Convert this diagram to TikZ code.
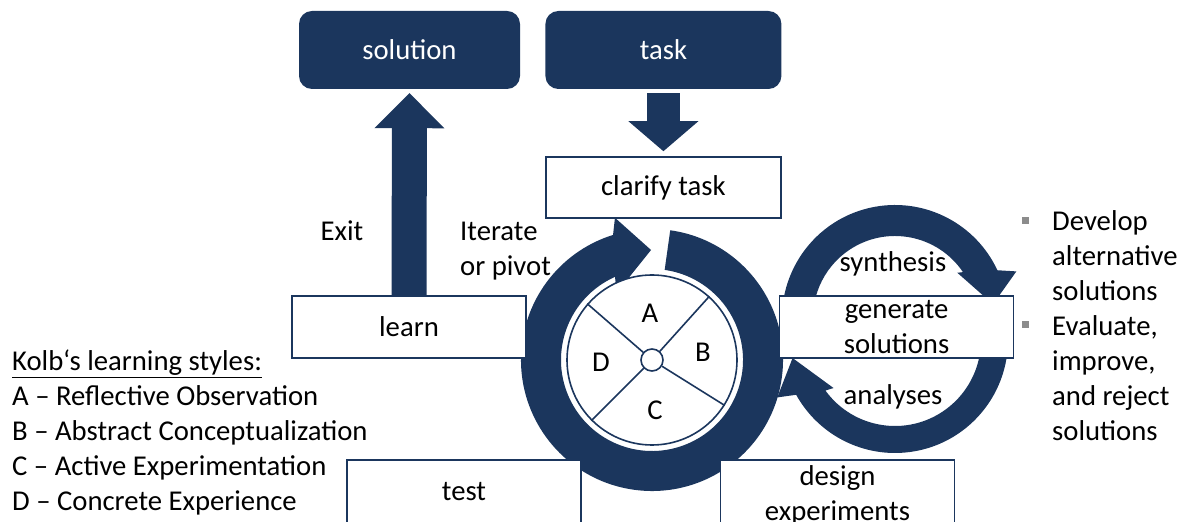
\documentclass[tikz,border=0pt]{standalone}
\usepackage{fontspec}
\setmainfont{Carlito}
\usepackage{xcolor}
\usepackage{tikz}
\usetikzlibrary{arrows.meta, positioning, calc}
\definecolor{KB_NAVY}{HTML}{1B365D}
\definecolor{KB_GREY}{HTML}{8C8C8C}
\tikzset{
  goal/.style={
    rectangle, rounded corners=13pt,
    minimum height=78pt,
    text centered, align=center,
    fill=KB_NAVY, text=white, inner sep=0pt},
  stage/.style={
    rectangle,
    minimum width=234pt, minimum height=62pt,
    text centered, align=center,
    draw=KB_NAVY, line width=1.6pt, fill=white, inner sep=0pt},
  lbl/.style={inner sep=0pt, align=left},
  letter/.style={inner sep=0pt},
  sqbullet/.style={rectangle, fill=KB_GREY, minimum size=7pt, inner sep=0pt},
  loop/.style={fill=KB_NAVY},
  spoke/.style={draw=KB_NAVY, line width=1.6pt},
  lift/.style={draw=KB_NAVY, line width=35pt,
    -{Triangle[length=35pt, width=70pt, line width=0pt]}},
  drop/.style={draw=KB_NAVY, line width=33pt,
    -{Triangle[length=30pt, width=70pt, line width=0pt]}},
}

\begin{document}
\begin{tikzpicture}[x=1pt, y=1pt,
  every node/.append style={font=\fontsize{28.7}{35}\selectfont}]

  \useasboundingbox (0,0) rectangle (1184,522);
  \clip (0,0) rectangle (1184,522);

  % main learning cycle
  \fill[loop, shift={(652,162)}]
    (82:131) arc[start angle=82, end angle=-252.7, radius=131]
    -- (-255.4:147) -- (-269.5:110) -- (-242.4:76) -- (-246:91)
    arc[start angle=-246, end angle=82, radius=91] -- cycle;

  % synthesis / analyses loop
  \fill[loop, shift={(895,204)}]
    (190:113) arc[start angle=190, end angle=25, radius=113]
    -- (21:130) -- (8:99) -- (36:77) -- (34:82)
    arc[start angle=34, end angle=190, radius=82] -- cycle;
  \fill[loop, shift={(895,182)}]
    (5:113) arc[start angle=5, end angle=-151, radius=113]
    -- (-154:131) -- (-170:104) -- (-142:78) -- (-144:86)
    arc[start angle=-144, end angle=5, radius=86] -- cycle;

  \node[circle, draw=KB_NAVY, line width=1.6pt, fill=white,
        minimum size=170pt, inner sep=0pt] (wheel) at (652,162) {};
  \node[circle, draw=KB_NAVY, line width=1.6pt, fill=white,
        minimum size=22pt, inner sep=0pt] (hub) at (652,162) {};
  \foreach \a in {139,48,-32,-135}
    \draw[spoke] (hub.\a) -- (wheel.\a);

  \node[letter] (A) at (650,209) {A};
  \node[letter] (B) at (703,170) {B};
  \node[letter] (C) at (655,112) {C};
  \node[letter] (D) at (601,160) {D};

  \node[goal, minimum width=221pt] (solution) at (409.5,472) {solution};
  \node[goal, minimum width=236pt, right=25pt of solution] (task) {task};

  \node[stage, minimum width=235pt, minimum height=61pt,
        below=67pt of task] (clarify) {clarify task};
  \node[stage] (learn) at (409,195) {learn};
  \node[stage, right=252pt of learn] (generate) {generate\\solutions};
  \node[stage, minimum height=64pt] (test) at (464,30) {test};
  \node[stage, minimum height=70pt] (design) at (837.5,27) {design\\experiments};

  \draw[lift] (learn.north) -- ([yshift=-4pt]solution.south);
  \draw[drop] ([yshift=-4pt]task.south) -- ([yshift=5pt]task.south |- clarify.north);

  \node[lbl] (exit) at (342,291) {Exit};
  \node[lbl, anchor=west] (iterate) at (460,271) {Iterate\\or pivot};
  \node[lbl] (synthesis) at (893,258) {synthesis};
  \node[lbl] (analyses) at (893,125) {analyses};

  \node[lbl, anchor=base west] (kolb) at (12,11)
    {\underline{Kolb‘s learning styles:}\\
     A – Reflective Observation\\
     B – Abstract Conceptualization\\
     C – Active Experimentation\\
     D – Concrete Experience};

  \node[lbl, anchor=base west] (develop) at (1052,221)
    {Develop\\alternative\\solutions};
  \node[lbl, anchor=base west] (evaluate) at (1052,81)
    {Evaluate,\\improve,\\and reject\\solutions};
  \node[sqbullet] (b1) at (1025,301) {};
  \node[sqbullet] (b2) at (1025,197.5) {};

\end{tikzpicture}
\end{document}
